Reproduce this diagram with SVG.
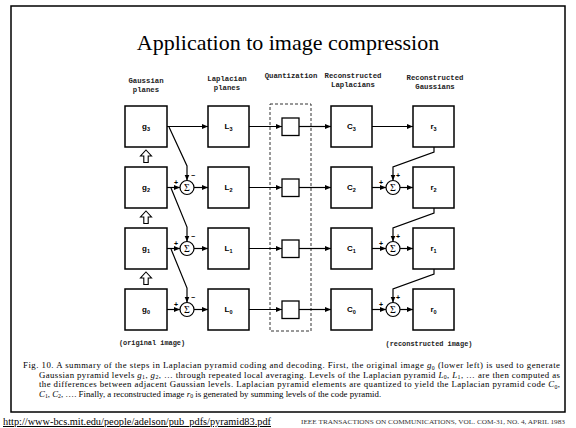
<svg xmlns="http://www.w3.org/2000/svg" width="576" height="428" viewBox="0 0 576 428">
<defs>
<marker id="ah" markerUnits="userSpaceOnUse" markerWidth="6" markerHeight="6" refX="6" refY="3" orient="auto">
<path d="M0,0.5 L6,3 L0,5.5 z" fill="#000"/>
</marker>
<style>
.box{fill:#fff;stroke:#000;stroke-width:1.5}
.qb{fill:#fff;stroke:#000;stroke-width:1.3}
.lbl{font-family:"Liberation Sans",Arial,sans-serif;font-weight:bold;font-size:8px;text-anchor:middle}
.sub{font-size:5.5px}
.hdr{font-family:"Liberation Mono","Courier New",monospace;font-weight:bold;font-size:7.3px;text-anchor:middle;fill:#222}
.cn{fill:none;stroke:#000;stroke-width:1.2}
.ar{marker-end:url(#ah)}
.sum{fill:#fff;stroke:#000;stroke-width:1.2}
.sig{font-family:"Liberation Serif","Times New Roman",serif;font-size:10px;text-anchor:middle}
.sgn{font-family:"Liberation Sans",Arial,sans-serif;font-weight:bold;font-size:7px;text-anchor:middle}
.cap{font-family:"Liberation Serif","Times New Roman",serif;font-size:8.8px}
.it{font-style:italic}
.cs{font-size:5.8px}
</style>
</defs>
<rect x="11" y="6" width="554" height="406" fill="#fff" stroke="#000" stroke-width="1.5"/>
<text x="288" y="50" font-family="'Liberation Serif','Times New Roman',serif" font-size="22" text-anchor="middle">Application to image compression</text>

<!-- headers -->
<text class="hdr" x="146" y="83">Gaussian</text>
<text class="hdr" x="146" y="92">planes</text>
<text class="hdr" x="227" y="81">Laplacian</text>
<text class="hdr" x="227" y="90">planes</text>
<text class="hdr" x="291" y="78">Quantization</text>
<text class="hdr" x="353" y="78">Reconstructed</text>
<text class="hdr" x="353" y="87">Laplacians</text>
<text class="hdr" x="435" y="80">Reconstructed</text>
<text class="hdr" x="435" y="89">Gaussians</text>
<text class="hdr" x="152" y="345" style="font-size:6.9px">(original image)</text>
<text class="hdr" x="429" y="346" style="font-size:6.9px">(reconstructed image)</text>

<!-- quantization dashed frame -->
<rect x="270" y="104" width="41" height="227" fill="none" stroke="#333" stroke-width="1" stroke-dasharray="3,2"/>

<g id="connectors">
<!-- row 3 -->
<path class="cn ar" d="M167,126.5 H208"/>
<path class="cn ar" d="M249,126.5 H282"/>
<path class="cn ar" d="M299,126.5 H331"/>
<path class="cn ar" d="M372,126.5 H413"/>
<!-- row 2 -->
<path class="cn ar" d="M167,187.5 H180"/>
<path class="cn ar" d="M194,187.5 H208"/>
<path class="cn ar" d="M249,187.5 H282"/>
<path class="cn ar" d="M299,187.5 H331"/>
<path class="cn ar" d="M372,187.5 H386"/>
<path class="cn ar" d="M400,187.5 H413"/>
<path class="cn ar" d="M169,127 L187,166 V180.5"/>
<path class="cn ar" d="M434,147 V152 L393,167 V180.5"/>
<!-- row 1 -->
<path class="cn ar" d="M167,248.5 H180"/>
<path class="cn ar" d="M194,248.5 H208"/>
<path class="cn ar" d="M249,248.5 H282"/>
<path class="cn ar" d="M299,248.5 H331"/>
<path class="cn ar" d="M372,248.5 H386"/>
<path class="cn ar" d="M400,248.5 H413"/>
<path class="cn ar" d="M171,188 L187,227 V241.5"/>
<path class="cn ar" d="M434,208 V213 L393,228 V241.5"/>
<!-- row 0 -->
<path class="cn ar" d="M167,309.5 H180"/>
<path class="cn ar" d="M194,309.5 H208"/>
<path class="cn ar" d="M249,309.5 H282"/>
<path class="cn ar" d="M299,309.5 H331"/>
<path class="cn ar" d="M372,309.5 H386"/>
<path class="cn ar" d="M400,309.5 H413"/>
<path class="cn ar" d="M171,249 L187,288 V302.5"/>
<path class="cn ar" d="M434,269 V274 L393,289 V302.5"/>
<!-- hollow up arrows -->
<polygon points="146,150 151.5,156 148.2,156 148.2,162.5 143.8,162.5 143.8,156 140.5,156" fill="#fff" stroke="#000" stroke-width="1.1"/>
<polygon points="146,211 151.5,217 148.2,217 148.2,223.5 143.8,223.5 143.8,217 140.5,217" fill="#fff" stroke="#000" stroke-width="1.1"/>
<polygon points="146,272 151.5,278 148.2,278 148.2,284.5 143.8,284.5 143.8,278 140.5,278" fill="#fff" stroke="#000" stroke-width="1.1"/>
<!-- signs -->
<text class="sgn" x="176" y="185">+</text>
<text class="sgn" x="193" y="178">−</text>
<text class="sgn" x="176" y="246">+</text>
<text class="sgn" x="193" y="239">−</text>
<text class="sgn" x="176" y="307">+</text>
<text class="sgn" x="193" y="300">−</text>
<text class="sgn" x="381" y="185">+</text>
<text class="sgn" x="398" y="178">+</text>
<text class="sgn" x="381" y="246">+</text>
<text class="sgn" x="398" y="239">+</text>
<text class="sgn" x="381" y="307">+</text>
<text class="sgn" x="398" y="300">+</text>
</g>

<!-- Gaussian boxes -->
<g id="g3"><rect class="box" x="125" y="106" width="42" height="41"/><text class="lbl" x="146" y="129">g<tspan class="sub" dy="2">3</tspan></text></g>
<g id="g2"><rect class="box" x="125" y="167" width="42" height="41"/><text class="lbl" x="146" y="190">g<tspan class="sub" dy="2">2</tspan></text></g>
<g id="g1"><rect class="box" x="125" y="228" width="42" height="41"/><text class="lbl" x="146" y="251">g<tspan class="sub" dy="2">1</tspan></text></g>
<g id="g0"><rect class="box" x="125" y="289" width="42" height="41"/><text class="lbl" x="146" y="312">g<tspan class="sub" dy="2">0</tspan></text></g>

<!-- left sums -->
<g id="sumL2"><circle class="sum" cx="187" cy="187.5" r="7"/><text class="sig" x="187" y="191">Σ</text></g>
<g id="sumL1"><circle class="sum" cx="187" cy="248.5" r="7"/><text class="sig" x="187" y="252">Σ</text></g>
<g id="sumL0"><circle class="sum" cx="187" cy="309.5" r="7"/><text class="sig" x="187" y="313">Σ</text></g>

<!-- Laplacian boxes -->
<g id="L3"><rect class="box" x="208" y="106" width="41" height="41"/><text class="lbl" x="228.5" y="129">L<tspan class="sub" dy="2">3</tspan></text></g>
<g id="L2"><rect class="box" x="208" y="167" width="41" height="41"/><text class="lbl" x="228.5" y="190">L<tspan class="sub" dy="2">2</tspan></text></g>
<g id="L1"><rect class="box" x="208" y="228" width="41" height="41"/><text class="lbl" x="228.5" y="251">L<tspan class="sub" dy="2">1</tspan></text></g>
<g id="L0"><rect class="box" x="208" y="289" width="41" height="41"/><text class="lbl" x="228.5" y="312">L<tspan class="sub" dy="2">0</tspan></text></g>

<!-- quantizers -->
<g id="q3"><rect class="qb" x="282" y="118" width="17" height="17.5"/></g>
<g id="q2"><rect class="qb" x="282" y="179" width="17" height="17.5"/></g>
<g id="q1"><rect class="qb" x="282" y="240" width="17" height="17.5"/></g>
<g id="q0"><rect class="qb" x="282" y="301" width="17" height="17.5"/></g>

<!-- code boxes -->
<g id="C3"><rect class="box" x="331" y="106" width="41" height="41"/><text class="lbl" x="351.5" y="129">C<tspan class="sub" dy="2">3</tspan></text></g>
<g id="C2"><rect class="box" x="331" y="167" width="41" height="41"/><text class="lbl" x="351.5" y="190">C<tspan class="sub" dy="2">2</tspan></text></g>
<g id="C1"><rect class="box" x="331" y="228" width="41" height="41"/><text class="lbl" x="351.5" y="251">C<tspan class="sub" dy="2">1</tspan></text></g>
<g id="C0"><rect class="box" x="331" y="289" width="41" height="41"/><text class="lbl" x="351.5" y="312">C<tspan class="sub" dy="2">0</tspan></text></g>

<!-- right sums -->
<g id="sumR2"><circle class="sum" cx="393" cy="187.5" r="7"/><text class="sig" x="393" y="191">Σ</text></g>
<g id="sumR1"><circle class="sum" cx="393" cy="248.5" r="7"/><text class="sig" x="393" y="252">Σ</text></g>
<g id="sumR0"><circle class="sum" cx="393" cy="309.5" r="7"/><text class="sig" x="393" y="313">Σ</text></g>

<!-- reconstructed boxes -->
<g id="r3"><rect class="box" x="413" y="106" width="41" height="41"/><text class="lbl" x="433.5" y="129">r<tspan class="sub" dy="2">3</tspan></text></g>
<g id="r2"><rect class="box" x="413" y="167" width="41" height="41"/><text class="lbl" x="433.5" y="190">r<tspan class="sub" dy="2">2</tspan></text></g>
<g id="r1"><rect class="box" x="413" y="228" width="41" height="41"/><text class="lbl" x="433.5" y="251">r<tspan class="sub" dy="2">1</tspan></text></g>
<g id="r0"><rect class="box" x="413" y="289" width="41" height="41"/><text class="lbl" x="433.5" y="312">r<tspan class="sub" dy="2">0</tspan></text></g>

<!-- caption -->
<text class="cap" x="23" y="368" textLength="537" lengthAdjust="spacing">Fig. 10.  A summary of the steps in Laplacian pyramid coding and decoding.  First, the original image <tspan class="it">g</tspan><tspan class="cs" dy="1.5">0</tspan><tspan dy="-1.5"> (lower left) is used to generate</tspan></text>
<text class="cap" x="39" y="377.5" textLength="521" lengthAdjust="spacing">Gaussian pyramid levels <tspan class="it">g</tspan><tspan class="cs" dy="1.5">1</tspan><tspan dy="-1.5">, </tspan><tspan class="it">g</tspan><tspan class="cs" dy="1.5">2</tspan><tspan dy="-1.5">, … through repeated local averaging.  Levels of the Laplacian pyramid </tspan><tspan class="it">L</tspan><tspan class="cs" dy="1.5">0</tspan><tspan dy="-1.5">, </tspan><tspan class="it">L</tspan><tspan class="cs" dy="1.5">1</tspan><tspan dy="-1.5">, … are then computed as</tspan></text>
<text class="cap" x="39" y="387" textLength="521" lengthAdjust="spacing">the differences between adjacent Gaussian levels.  Laplacian pyramid elements are quantized to yield the Laplacian pyramid code <tspan class="it">C</tspan><tspan class="cs" dy="1.5">0</tspan><tspan dy="-1.5">,</tspan></text>
<text class="cap" x="39" y="396.5"><tspan class="it">C</tspan><tspan class="cs" dy="1.5">1</tspan><tspan dy="-1.5">, </tspan><tspan class="it">C</tspan><tspan class="cs" dy="1.5">2</tspan><tspan dy="-1.5">, ….  Finally, a reconstructed image </tspan><tspan class="it">r</tspan><tspan class="cs" dy="1.5">0</tspan><tspan dy="-1.5"> is generated by summing levels of the code pyramid.</tspan></text>

<!-- footer -->
<text x="3" y="425" font-family="'Liberation Serif','Times New Roman',serif" font-size="10" text-decoration="underline" fill="#000" textLength="268" lengthAdjust="spacingAndGlyphs">http://www-bcs.mit.edu/people/adelson/pub_pdfs/pyramid83.pdf</text>
<text x="301" y="424" font-family="'Liberation Serif','Times New Roman',serif" font-size="5.5" fill="#333" textLength="264" lengthAdjust="spacingAndGlyphs">IEEE TRANSACTIONS ON COMMUNICATIONS, VOL. COM-31, NO. 4, APRIL 1983</text>
</svg>
